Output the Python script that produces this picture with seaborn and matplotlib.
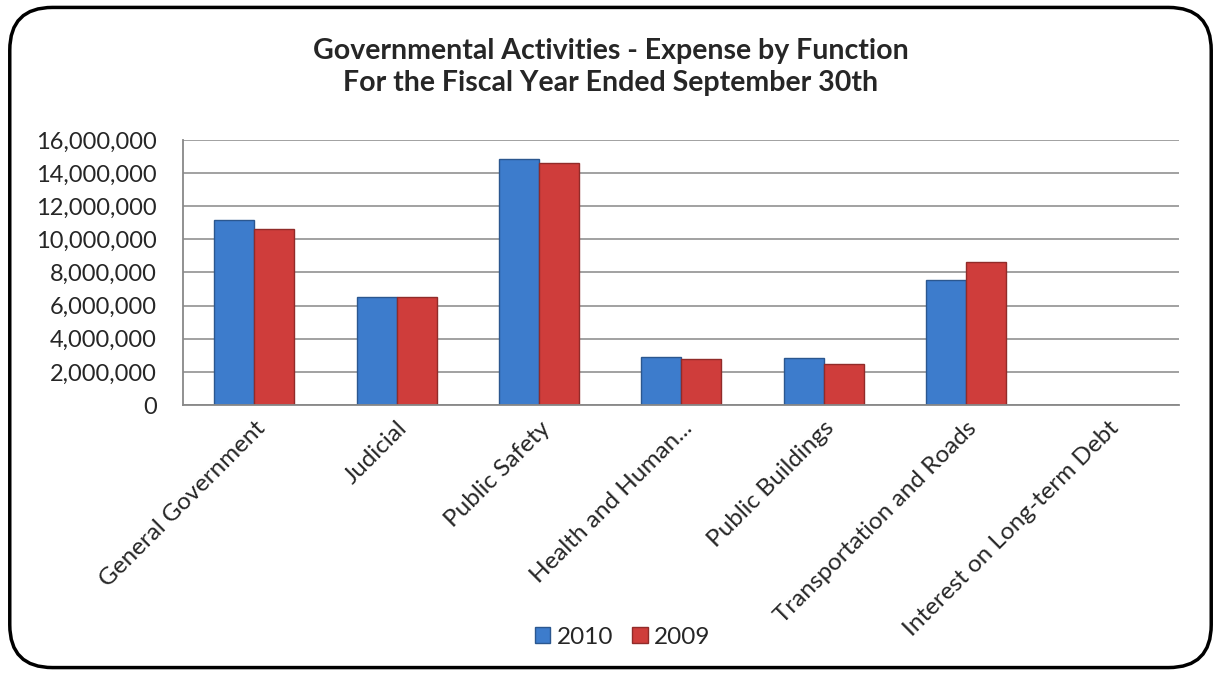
import pandas as pd
import numpy as np
import seaborn as sb
import matplotlib.pyplot as plt
from matplotlib.patches import FancyBboxPatch
from matplotlib.ticker import FuncFormatter, FixedLocator

# data
categories = ["General Government", "Judicial", "Public Safety", "Health and Human...",
              "Public Buildings", "Transportation and Roads", "Interest on Long-term Debt"]
exp_2010 = [11170000, 6500000, 14870000, 2920000, 2860000, 7560000, 0]
exp_2009 = [10600000, 6500000, 14620000, 2780000, 2480000, 8650000, 0]
years = ["2010", "2009"]

df = pd.DataFrame({
    "Function": categories * 2,
    "Year": [years[0]] * len(categories) + [years[1]] * len(categories),
    "Expense": exp_2010 + exp_2009,
})

sb.set_style("white")
plt.rcParams['font.family'] = ['Lato', 'DejaVu Sans']

fig = plt.figure(figsize=(12.21, 6.75), dpi=100)
ax = fig.add_axes([0.150, 0.40, 0.816, 0.3926])

sb.barplot(data=df, x="Function", y="Expense", hue="Year", order=categories,
           hue_order=years, palette=["#3d7ccc", "#cf3d3b"], width=0.56,
           edgecolor=None, linewidth=0, saturation=1, ax=ax)

# darker outline like the bevelled excel bars
for bar in ax.patches:
    fc = bar.get_facecolor()
    bar.set_edgecolor(tuple(c * 0.7 for c in fc[:3]))
    bar.set_linewidth(1.0)

ax.set_ylim(0, 16000000)
ax.set_xlim(-0.5, len(categories) - 0.5)
ax.set_yticks(np.arange(0, 16000001, 2000000))
ax.yaxis.set_major_formatter(FuncFormatter(lambda v, p: f"{int(v):,}"))
ax.yaxis.grid(True, color="#9a9a9a", linewidth=1.3)
ax.set_axisbelow(True)
ax.tick_params(axis='y', labelsize=17, length=6, color="#888888", direction='out', pad=13)

ax.set_xticks(range(len(categories)))
ax.set_xticklabels(categories, rotation=45, ha='right', rotation_mode='anchor', fontsize=17.5)
ax.tick_params(axis='x', which='major', length=0, pad=9)
ax.xaxis.set_minor_locator(FixedLocator(np.arange(-0.5, len(categories), 1)))
ax.tick_params(axis='x', which='minor', length=7, color="#888888", width=1.2)

for s in ["top", "right"]:
    ax.spines[s].set_visible(False)
for s in ["left", "bottom"]:
    ax.spines[s].set_color("#888888")
    ax.spines[s].set_linewidth(1.3)

ax.set_xlabel("")
ax.set_ylabel("")

handles, labels = ax.get_legend_handles_labels()
ax.get_legend().remove()
fig.legend(handles, labels, loc='center', bbox_to_anchor=(0.51, 0.056), ncol=2,
           frameon=False, fontsize=17.5, handlelength=0.62, handleheight=0.62,
           handletextpad=0.25, columnspacing=0.8)

fig.text(0.5, 0.925, "Governmental Activities - Expense by Function", ha='center', va='center',
         fontsize=20.5, fontweight='bold')
fig.text(0.5, 0.877, "For the Fiscal Year Ended September 30th", ha='center', va='center',
         fontsize=20.5, fontweight='bold')

frame = FancyBboxPatch((0.008, 0.011), 0.984, 0.978, boxstyle="round,pad=0,rounding_size=0.035",
                       transform=fig.transFigure, fill=False, edgecolor="black", linewidth=2.5,
                       mutation_aspect=1221 / 675)
fig.patches.append(frame)

plt.savefig("out.png", dpi=100)
